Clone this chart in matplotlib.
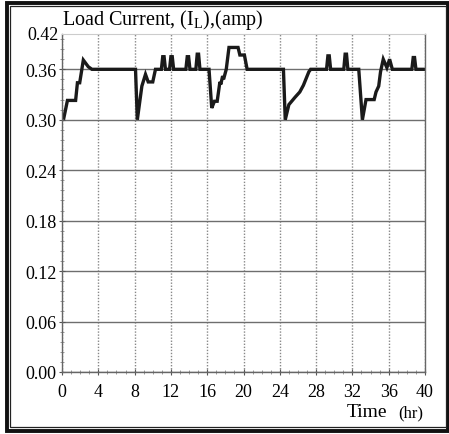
import matplotlib
matplotlib.use("Agg")
import matplotlib.pyplot as plt
from matplotlib.patches import Rectangle
from matplotlib.ticker import MultipleLocator

# ---- data ----
time_hr = [0.2, 0.6, 1.5, 1.7, 1.95, 2.35, 2.9, 3.3,
           8.1, 8.3, 8.8, 9.2, 9.5, 10.0, 10.3,
           10.95, 11.1, 11.25, 11.4, 11.85, 12.0, 12.15, 12.3,
           13.65, 13.8, 13.95, 14.1, 14.75, 14.9, 15.05, 15.2,
           16.2, 16.5, 16.8, 17.1, 17.4, 17.5, 17.7, 17.8, 18.1, 18.4, 19.4, 19.6, 20.1, 20.4,
           24.4, 24.6, 25.0, 25.7, 26.2, 26.6, 27.2, 27.4,
           29.15, 29.3, 29.45, 29.6, 31.05, 31.2, 31.35, 31.5,
           32.7, 33.1, 33.5, 34.4, 34.6, 34.9, 35.1, 35.4, 35.8, 36.1, 36.4,
           38.55, 38.7, 38.85, 39.0, 40.0]
current_amp = [0.302, 0.323, 0.323, 0.344, 0.344, 0.371, 0.363, 0.360,
               0.360, 0.300, 0.340, 0.354, 0.345, 0.345, 0.360,
               0.360, 0.375, 0.375, 0.360, 0.360, 0.375, 0.375, 0.360,
               0.360, 0.375, 0.375, 0.360, 0.360, 0.378, 0.378, 0.360,
               0.360, 0.314, 0.322, 0.322, 0.345, 0.342, 0.352, 0.348, 0.360, 0.386, 0.386, 0.377, 0.377, 0.360,
               0.360, 0.300, 0.318, 0.327, 0.333, 0.341, 0.357, 0.360,
               0.360, 0.376, 0.376, 0.360, 0.360, 0.378, 0.378, 0.360,
               0.360, 0.300, 0.324, 0.324, 0.333, 0.340, 0.357, 0.372, 0.362, 0.372, 0.360,
               0.360, 0.374, 0.374, 0.360, 0.360]

x_ticks = [0, 4, 8, 12, 16, 20, 24, 28, 32, 36, 40]
y_ticks = [0.00, 0.06, 0.12, 0.18, 0.24, 0.30, 0.36]
y_tick_labels = ["0.00", "0.06", "0.12", "0.18", "0.24", "0.30", "0.36"]
top_label = "0.42"
title = "Load Current, (I$_\\mathregular{L}$),(amp)"

plt.rcParams['font.family'] = ['Liberation Serif', 'DejaVu Serif']
plt.rcParams['mathtext.fontset'] = 'custom'
plt.rcParams['mathtext.rm'] = 'Liberation Serif'

fig = plt.figure(figsize=(4.49, 4.35), dpi=100)
fig.patch.set_facecolor('white')

# border frame
W, H = 449, 435
fig.add_artist(Rectangle((6.5 / W, 3.5 / H), 441 / W, 428 / H, transform=fig.transFigure,
                         fill=False, lw=2.8, ec='#111111'))
fig.add_artist(Rectangle((10 / W, 7 / H), 436 / W, 421 / H, transform=fig.transFigure,
                         fill=False, lw=0.9, ec='#222222'))

ax = fig.add_axes([62 / W, (435 - 373) / H, (425 - 62) / W, (373 - 35) / H])
ax.set_xlim(0, 40)
ax.set_ylim(0, 0.402)

ax.set_xticks(x_ticks)
ax.set_xticklabels([str(v) for v in x_ticks])
ax.set_yticks(y_ticks)
ax.set_yticklabels(y_tick_labels)
ax.xaxis.set_minor_locator(MultipleLocator(1))
ax.yaxis.set_minor_locator(MultipleLocator(0.012))

ax.tick_params(axis='both', which='major', labelsize=13, direction='inout', length=4,
               color='#555555', pad=2)
ax.tick_params(axis='both', which='minor', direction='inout', length=3, color='#888888')
ax.tick_params(axis='x', pad=6)

ax.grid(axis='y', which='major', color='#6e6e6e', lw=1.0, ls='-')
ax.grid(axis='x', which='major', color='#888888', lw=1.0, ls=(0, (1, 1.2)))

for side in ['left', 'bottom', 'right']:
    ax.spines[side].set_color('#666666')
    ax.spines[side].set_linewidth(1.0)
ax.spines['top'].set_color('#cccccc')
ax.spines['top'].set_linewidth(0.8)

ax.plot(time_hr, current_amp, color='#1a1a1a', lw=2.4, solid_joinstyle='miter')

ax.text(-0.01, 1.0, top_label, transform=ax.transAxes, ha='right', va='center', fontsize=13)
ax.text(0.0, 1.01, title, transform=ax.transAxes, ha='left', va='bottom', fontsize=14.5)

fig.text(347 / W, 1 - 417 / H, "Time", fontsize=14, ha='left', va='baseline')
fig.text(398 / W, 1 - 417 / H, "(hr)", fontsize=12, ha='left', va='baseline')

fig.savefig("out.png", dpi=100, facecolor='white')
